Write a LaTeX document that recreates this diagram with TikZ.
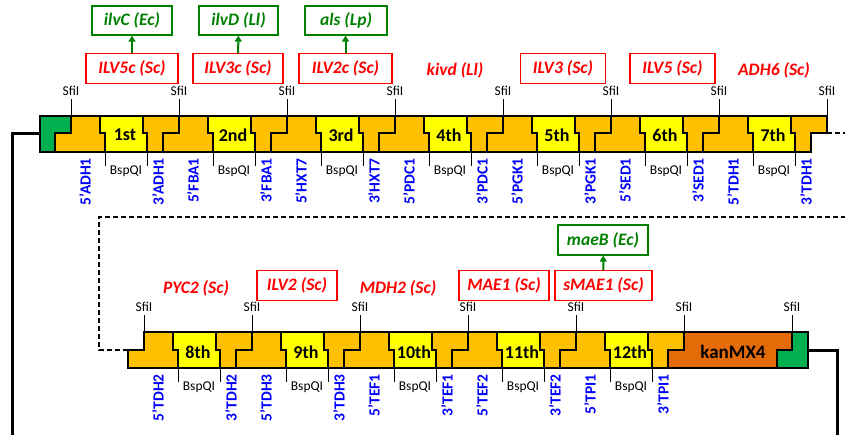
\documentclass[tikz,border=0pt]{standalone}
\usepackage{fontspec}
\setmainfont{Carlito}
\usetikzlibrary{arrows.meta}
\definecolor{orangeP}{HTML}{FFC000}
\definecolor{yellowG}{HTML}{FFFF00}
\definecolor{greenE}{HTML}{00B050}
\definecolor{kanC}{HTML}{E36C09}
\definecolor{redT}{HTML}{FF0000}
\definecolor{greenT}{HTML}{008000}
\definecolor{blueT}{HTML}{0000FF}
\tikzset{
  piece/.style={draw=black, line width=2.8pt, line join=miter},
  sitetick/.style={draw=black, line width=0.9pt},
  sfitext/.style={font=\fontsize{13.5}{15}\selectfont, inner sep=0pt},
  bsptext/.style={font=\fontsize{13.5}{15}\selectfont, inner sep=0pt},
  ordtext/.style={font=\fontsize{18}{21}\selectfont\bfseries, inner sep=0pt},
  bluetext/.style={font=\fontsize{15.5}{17}\selectfont\bfseries, text=blueT, rotate=90, anchor=east, inner sep=0pt},
  genebox/.style={draw=redT, line width=1.3pt, text=redT, font=\fontsize{17.5}{20}\selectfont\bfseries\itshape, minimum height=30pt, inner sep=0pt},
  genetext/.style={text=redT, font=\fontsize{17.5}{20}\selectfont\bfseries\itshape, inner sep=0pt},
  hetbox/.style={draw=greenT, line width=1.3pt, text=greenT, font=\fontsize{17.5}{20}\selectfont\bfseries\itshape, minimum height=29pt, inner sep=0pt},
  hetarrow/.style={draw=greenT, line width=2pt, -{Triangle[length=6pt,width=7pt]}},
  backbone/.style={draw=black, line width=3pt},
  joinline/.style={draw=black, line width=1.4pt, dash pattern=on 5pt off 3pt}
}
% #1 id, #2 S, #3 yT, #4 yM, #5 yB, #6 ordinal, #7 promoter, #8 terminator
\newcommand\cassette[8]{%
  \filldraw[piece, fill=orangeP] (#2,#3) -- ({#2+29},#3) -- ({#2+29},#4) -- ({#2+34},#4) -- ({#2+34},#5) -- ({#2-16},#5) -- ({#2-16},#4) -- (#2,#4) -- cycle;
  \filldraw[piece, fill=yellowG] ({#2+29},#3) -- ({#2+72},#3) -- ({#2+72},#4) -- ({#2+76},#4) -- ({#2+76},#5) -- ({#2+34},#5) -- ({#2+34},#4) -- ({#2+29},#4) -- cycle;
  \filldraw[piece, fill=orangeP] ({#2+72},#3) -- ({#2+108},#3) -- ({#2+108},#4) -- ({#2+92},#4) -- ({#2+92},#5) -- ({#2+76},#5) -- ({#2+76},#4) -- ({#2+72},#4) -- cycle;
  \node[ordtext] (#1-ord) at ({#2+54},{#4+2}) {#6};
  \draw[sitetick] (#2,{#3-17}) -- (#2,#3);
  \node[sfitext] (#1-sfi) at (#2,{#3-25}) {SfiI};
  \draw[sitetick] ({#2+34},#5) -- ({#2+34},{#5+14});
  \draw[sitetick] ({#2+76},#5) -- ({#2+76},{#5+14});
  \node[bsptext] (#1-bsp) at ({#2+55},{#5+19}) {BspQI};
  \node[bluetext] (#1-pro) at ({#2+14},{#5+6}) {#7};
  \node[bluetext] (#1-ter) at ({#2+87},{#5+6}) {#8};
}
\begin{document}
\begin{tikzpicture}[x=1pt,y=-1pt]
\useasboundingbox (0,0) rectangle (845,434);
% backbone lines
\coordinate (bbL) at (40,133);
\coordinate (bbR) at (808,350);
\draw[backbone] (bbL) -- (12,133) -- (12,440);
\draw[backbone] (bbR) -- (837,350) -- (837,440);
% dashed join
\coordinate (topEnd) at (827,133);
\coordinate (botStart) at (128,350);
\draw[joinline] (topEnd) -- (846,133);
\draw[joinline] (846,217) -- (99,217) -- (99,350) -- (botStart);
% top row
\filldraw[piece, fill=greenE] (40,116) -- (71,116) -- (71,133) -- (55,133) -- (55,152) -- (40,152) -- cycle;
\cassette{u1}{71}{116}{133}{152}{1st}{5’ADH1}{3’ADH1}
\cassette{u2}{179}{116}{133}{152}{2nd}{5’FBA1}{3’FBA1}
\cassette{u3}{287}{116}{133}{152}{3rd}{5’HXT7}{3’HXT7}
\cassette{u4}{395}{116}{133}{152}{4th}{5’PDC1}{3’PDC1}
\cassette{u5}{503}{116}{133}{152}{5th}{5’PGK1}{3’PGK1}
\cassette{u6}{611}{116}{133}{152}{6th}{5’SED1}{3’SED1}
\cassette{u7}{719}{116}{133}{152}{7th}{5’TDH1}{3’TDH1}
\draw[sitetick] (827,99) -- (827,116);
\node[sfitext] (sfiT8) at (827,91) {SfiI};
% bottom row
\cassette{u8}{144}{332}{350}{368}{8th}{5’TDH2}{3’TDH2}
\cassette{u9}{252}{332}{350}{368}{9th}{5’TDH3}{3’TDH3}
\cassette{u10}{360}{332}{350}{368}{10th}{5’TEF1}{3’TEF1}
\cassette{u11}{468}{332}{350}{368}{11th}{5’TEF2}{3’TEF2}
\cassette{u12}{576}{332}{350}{368}{12th}{5’TPI1}{3’TPI1}
\filldraw[piece, fill=kanC] (684,332) -- (792,332) -- (792,350) -- (777,350) -- (777,368) -- (668,368) -- (668,350) -- (684,350) -- cycle;
\filldraw[piece, fill=greenE] (792,332) -- (808,332) -- (808,368) -- (777,368) -- (777,350) -- (792,350) -- cycle;
\node[ordtext, font=\fontsize{19}{22}\selectfont\bfseries] (kan) at (733,352) {kanMX4};
\draw[sitetick] (684,315) -- (684,332);
\node[sfitext] (sfiB6) at (684,307) {SfiI};
\draw[sitetick] (792,315) -- (792,332);
\node[sfitext] (sfiB7) at (792,307) {SfiI};
% top gene labels
\node[genebox, minimum width=92pt] (ilv5c) at (132,68.5) {ILV5c (Sc)};
\node[genebox, minimum width=90pt] (ilv3c) at (238,68.5) {ILV3c (Sc)};
\node[genebox, minimum width=93pt] (ilv2c) at (345.5,68.5) {ILV2c (Sc)};
\node[genetext] (kivd) at (455,70) {kivd (Ll)};
\node[genebox, minimum width=85pt] (ilv3) at (563,68.5) {ILV3 (Sc)};
\node[genebox, minimum width=85pt] (ilv5) at (672.5,68.5) {ILV5 (Sc)};
\node[genetext] (adh6) at (774,70) {ADH6 (Sc)};
\node[hetbox, minimum width=80pt] (ilvC) at (132,20.5) {ilvC (Ec)};
\node[hetbox, minimum width=79pt] (ilvD) at (238.5,20.5) {ilvD (Ll)};
\node[hetbox, minimum width=82pt] (als) at (346,20.5) {als (Lp)};
\draw[hetarrow] (ilv5c) -- (ilvC);
\draw[hetarrow] (ilv3c) -- (ilvD);
\draw[hetarrow] (ilv2c.north) -- (ilv2c.north |- als.south);
% bottom gene labels
\node[genetext] (pyc2) at (196,288) {PYC2 (Sc)};
\node[genebox, minimum width=80pt] (ilv2) at (297,285.5) {ILV2 (Sc)};
\node[genetext] (mdh2) at (398,288) {MDH2 (Sc)};
\node[genebox, minimum width=90pt] (mae1) at (504,285.5) {MAE1 (Sc)};
\node[genebox, minimum width=97pt] (smae1) at (603.5,285.5) {sMAE1 (Sc)};
\node[hetbox, minimum width=90pt, minimum height=30pt] (maeB) at (603,240) {maeB (Ec)};
\draw[hetarrow] (smae1) -- (maeB);
\end{tikzpicture}
\end{document}
